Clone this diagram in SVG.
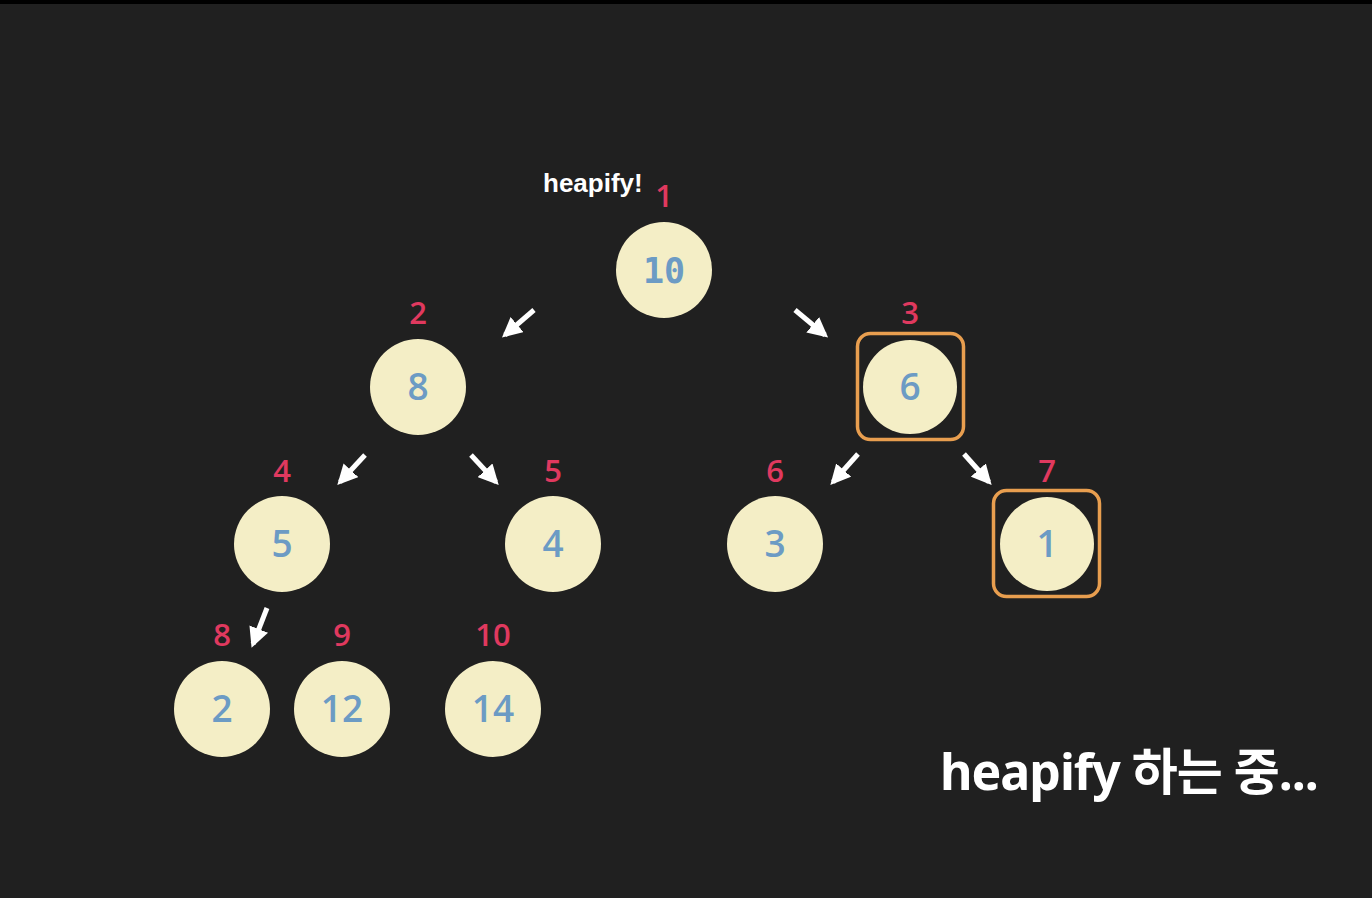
<svg xmlns="http://www.w3.org/2000/svg" width="1372" height="898" viewBox="0 0 1372 898">
<defs>
<style>
.n{fill:#F4EEC6;}
.v{font-family:"Open Sans","Noto Sans",sans-serif;font-weight:600;font-size:37px;fill:#6C9BC4;text-anchor:middle;}
.vm{font-family:"DejaVu Sans Mono",monospace;font-weight:bold;font-size:35px;fill:#6C9BC4;text-anchor:middle;}
.i{font-family:"Open Sans","Noto Sans",sans-serif;font-weight:600;font-size:31px;fill:#E0395F;text-anchor:middle;}
.box{fill:none;stroke:#E89E4F;stroke-width:3.5;}
.a{stroke:#FFFFFF;stroke-width:5;fill:none;marker-end:url(#ah);}
</style>
<marker id="ah" viewBox="0 0 10 10" refX="8" refY="5" markerWidth="4" markerHeight="4" orient="auto" markerUnits="strokeWidth">
<path d="M0,0 L10,5 L0,10 Z" fill="#FFFFFF"/>
</marker>
</defs>
<rect x="0" y="0" width="1372" height="898" fill="#202020"/>
<rect x="0" y="0" width="1372" height="4" fill="#000000"/>
<text x="543" y="192" font-family="'Liberation Sans',Arial,sans-serif" font-weight="bold" font-size="26" fill="#FFFFFF">heapify!</text>
<g id="connectors">
<line class="a" x1="534" y1="310" x2="505" y2="335"/>
<line class="a" x1="795" y1="310" x2="825" y2="335"/>
<line class="a" x1="365" y1="455" x2="340" y2="482"/>
<line class="a" x1="471" y1="455" x2="496" y2="482"/>
<line class="a" x1="858" y1="454" x2="833" y2="482"/>
<line class="a" x1="964" y1="454" x2="989" y2="482"/>
<line class="a" x1="267" y1="608" x2="253" y2="644"/>
</g>
<g id="node1"><text class="i" x="664" y="207">1</text><circle class="n" cx="664" cy="270" r="48"/><text class="vm" x="664" y="283">10</text></g>
<g id="node2"><text class="i" x="418" y="324">2</text><circle class="n" cx="418" cy="387" r="48"/><text class="v" x="418" y="400">8</text></g>
<g id="node3"><text class="i" x="910" y="324">3</text><rect class="box" x="857.5" y="333.5" width="106" height="106" rx="13"/><circle class="n" cx="910" cy="387" r="47"/><text class="v" x="910" y="400">6</text></g>
<g id="node4"><text class="i" x="282" y="482">4</text><circle class="n" cx="282" cy="544" r="48"/><text class="v" x="282" y="557">5</text></g>
<g id="node5"><text class="i" x="553" y="482">5</text><circle class="n" cx="553" cy="544" r="48"/><text class="v" x="553" y="557">4</text></g>
<g id="node6"><text class="i" x="775" y="482">6</text><circle class="n" cx="775" cy="544" r="48"/><text class="v" x="775" y="557">3</text></g>
<g id="node7"><text class="i" x="1047" y="482">7</text><rect class="box" x="993.5" y="490.5" width="106" height="106" rx="13"/><circle class="n" cx="1047" cy="544" r="47"/><text class="v" x="1047" y="557">1</text></g>
<g id="node8"><text class="i" x="222" y="646">8</text><circle class="n" cx="222" cy="709" r="48"/><text class="v" x="222" y="722">2</text></g>
<g id="node9"><text class="i" x="342" y="646">9</text><circle class="n" cx="342" cy="709" r="48"/><text class="v" x="342" y="722">12</text></g>
<g id="node10"><text class="i" x="493" y="646">10</text><circle class="n" cx="493" cy="709" r="48"/><text class="v" x="493" y="722">14</text></g>
<text x="940" y="790" font-family="'Noto Sans','Noto Sans CJK KR',sans-serif" font-weight="bold" font-size="50" fill="#FFFFFF" letter-spacing="-1">heapify 하는 중...</text>
</svg>
